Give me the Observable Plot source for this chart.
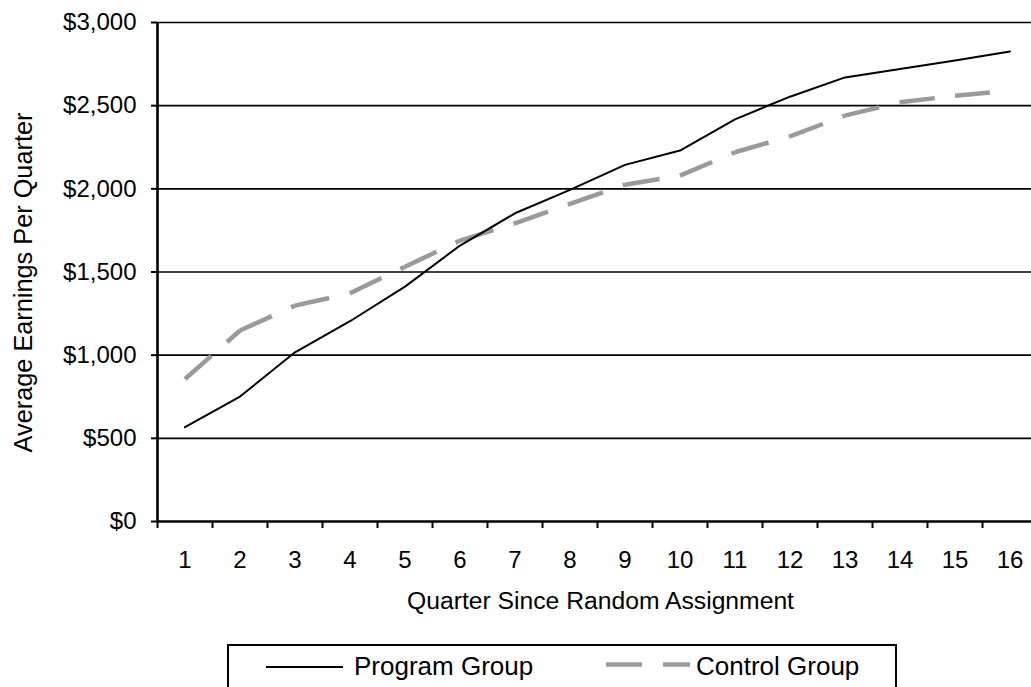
<!DOCTYPE html>
<html>
<head>
<meta charset="utf-8">
<script src="https://cdn.jsdelivr.net/npm/d3@7"></script>
<script src="https://cdn.jsdelivr.net/npm/@observablehq/plot@0.6"></script>
<style>
  html, body { margin: 0; padding: 0; background: #fff; }
  #wrap { position: relative; width: 1031px; height: 687px; overflow: hidden; }
  #legend { position: absolute; left: 0; top: 630px; }
</style>
</head>
<body>
<div id="wrap"><div id="chart"></div><div id="legend"></div></div>
<script>
const quarters = [1, 2, 3, 4, 5, 6, 7, 8, 9, 10, 11, 12, 13, 14, 15, 16];
const programEarnings = [567, 751, 1017, 1204, 1412, 1659, 1853, 1994, 2144, 2230, 2418, 2554, 2670, 2721, 2772, 2826];
const controlEarnings = [857, 1148, 1298, 1372, 1532, 1689, 1793, 1909, 2025, 2079, 2220, 2316, 2440, 2520, 2560, 2590];
const yTicks = [0, 500, 1000, 1500, 2000, 2500, 3000];
const seriesNames = ["Program Group", "Control Group"];
const xTitle = "Quarter Since Random Assignment";
const yTitle = "Average Earnings Per Quarter";

const FONT = "'Liberation Sans', Arial, Helvetica, sans-serif";
const boundaries = [quarters[0] - 0.5, ...quarters.map(q => q + 0.5)];
const programPts = quarters.map((q, i) => ({q, v: programEarnings[i]}));
const controlPts = quarters.map((q, i) => ({q, v: controlEarnings[i]}));
const controlSegs = d3.pairs(controlPts).map(([a, b]) => ({x1: a.q, y1: a.v, x2: b.q, y2: b.v}));
const money = d => "$" + d3.format(",")(d);

const chart = Plot.plot({
  width: 1031,
  height: 640,
  marginLeft: 157,
  marginRight: -6,
  marginTop: 22,
  marginBottom: 119,
  style: {fontFamily: FONT, fontSize: "24px", background: "white", color: "black", overflow: "hidden"},
  x: {type: "linear", domain: [boundaries[0], boundaries[boundaries.length - 1]], range: [157, 1037]},
  y: {type: "linear", domain: [yTicks[0], yTicks[yTicks.length - 1]], range: [521, 22]},
  marks: [
    Plot.ruleY(yTicks.filter(d => d > 0), {stroke: "black", strokeWidth: 1.7}),
    Plot.axisX(boundaries, {tickSize: 7, tickFormat: () => "", strokeWidth: 2, label: null}),
    Plot.axisX(quarters, {tickSize: 0, tickPadding: 29, tickFormat: d => String(d), label: null}),
    Plot.axisY(yTicks, {tickSize: 6, tickPadding: 15, tickFormat: money, strokeWidth: 2, label: null}),
    Plot.ruleY([0], {stroke: "black", strokeWidth: 2.6}),
    Plot.ruleX([boundaries[0]], {y1: yTicks[0], y2: yTicks[yTicks.length - 1], stroke: "black", strokeWidth: 2.6}),
    Plot.link(controlSegs, {x1: "x1", y1: "y1", x2: "x2", y2: "y2", stroke: "#9a9a9a", strokeWidth: 4.5, strokeDasharray: "35,21"}),
    Plot.line(programPts, {x: "q", y: "v", stroke: "black", strokeWidth: 2, curve: "linear"}),
    Plot.text([xTitle], {frameAnchor: "bottom", textAnchor: "middle", lineAnchor: "middle", dy: 79.5, dx: 3, fontSize: 24.7, fill: "black"}),
    Plot.text([yTitle], {frameAnchor: "left", textAnchor: "middle", lineAnchor: "middle", dx: -133.5, dy: 10.5, rotate: -90, fontSize: 25.3, fill: "black"})
  ]
});
document.getElementById("chart").appendChild(chart);

// Legend below the chart
const lg = d3.select("#legend").append("svg")
  .attr("width", 1031).attr("height", 57)
  .style("font-family", FONT);
lg.append("rect").attr("x", 228).attr("y", 15).attr("width", 668).attr("height", 60)
  .attr("fill", "none").attr("stroke", "black").attr("stroke-width", 2);
const items = [
  {name: seriesNames[0], x1: 266, x2: 343, ly: 37, tx: 354, stroke: "black", sw: 2, dash: null},
  {name: seriesNames[1], x1: 606, x2: 690, ly: 34.5, tx: 696, stroke: "#9a9a9a", sw: 4.5, dash: "36,21"}
];
items.forEach(it => {
  lg.append("line").attr("x1", it.x1).attr("x2", it.x2).attr("y1", it.ly).attr("y2", it.ly)
    .attr("stroke", it.stroke).attr("stroke-width", it.sw).attr("stroke-dasharray", it.dash);
  lg.append("text").attr("x", it.tx).attr("y", 45).attr("font-size", 26).attr("fill", "black").text(it.name);
});
</script>
</body>
</html>
